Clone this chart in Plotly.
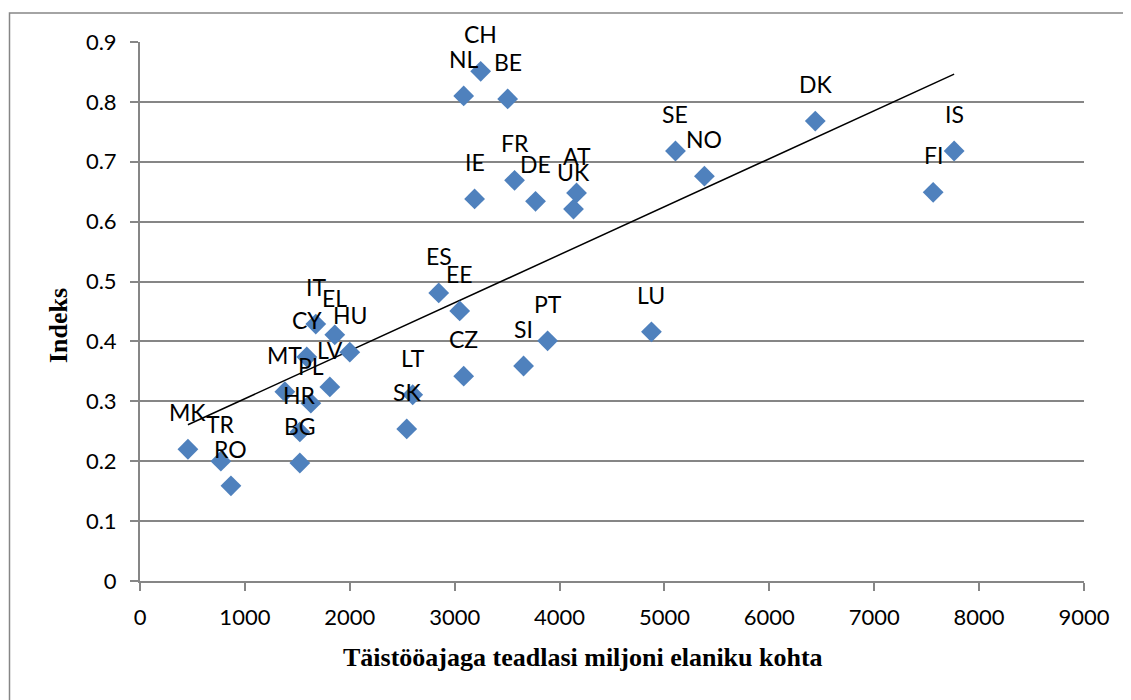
import numpy as np
import plotly.graph_objects as go

countries = ["MK", "TR", "RO", "BG", "HR", "PL", "MT", "LV", "CY", "HU", "EL", "IT",
             "SK", "LT", "ES", "EE", "CZ", "SI", "PT", "NL", "CH", "BE", "IE", "FR",
             "DE", "UK", "AT", "LU", "SE", "NO", "DK", "FI", "IS"]
researchers = [457, 771, 867, 1524, 1524, 1629, 1381, 1810, 1590, 2000, 1857, 1676,
               2543, 2600, 2848, 3048, 3086, 3657, 3886, 3086, 3248, 3505, 3190, 3571,
               3771, 4133, 4162, 4876, 5105, 5381, 6438, 7562, 7762]
index_vals = [0.220, 0.200, 0.159, 0.197, 0.249, 0.297, 0.316, 0.324, 0.374, 0.382, 0.411, 0.429,
              0.254, 0.311, 0.481, 0.451, 0.342, 0.359, 0.401, 0.810, 0.851, 0.805, 0.638, 0.669,
              0.634, 0.621, 0.648, 0.416, 0.718, 0.676, 0.768, 0.649, 0.718]

x_ticks = [0, 1000, 2000, 3000, 4000, 5000, 6000, 7000, 8000, 9000]
y_ticks = [0, 0.1, 0.2, 0.3, 0.4, 0.5, 0.6, 0.7, 0.8, 0.9]
x_title = "Täistööajaga teadlasi miljoni elaniku kohta"
y_title = "Indeks"

xa = np.array(researchers, dtype=float)
ya = np.array(index_vals, dtype=float)
slope, intercept = np.polyfit(xa, ya, 1)
tx = np.array([xa.min(), xa.max()])
ty = slope * tx + intercept

fig = go.Figure()
fig.add_trace(go.Scatter(x=tx, y=ty, mode="lines",
                         line=dict(color="black", width=1.5), hoverinfo="skip",
                         showlegend=False))
fig.add_trace(go.Scatter(x=researchers, y=index_vals, mode="markers",
                         marker=dict(symbol="diamond", size=16, color="#4F81BD",
                                     line=dict(width=0)),
                         text=countries, showlegend=False))

for c, xv, yv in zip(countries, researchers, index_vals):
    fig.add_annotation(x=xv, y=yv, text=c, showarrow=False, yshift=37,
                       font=dict(family="Lato", size=23, color="black"))

tick_font = dict(family="Lato", size=22, color="black")
fig.update_xaxes(range=[0, 9000], tickvals=x_ticks, ticktext=[str(v) for v in x_ticks],
                 showgrid=False, zeroline=False, showline=True, linecolor="#868686",
                 linewidth=2, ticks="outside", ticklen=8, tickwidth=2, tickcolor="#868686",
                 tickfont=tick_font, ticklabelstandoff=8)
fig.update_yaxes(range=[0, 0.9], tickvals=y_ticks,
                 ticktext=["0" if v == 0 else f"{v:.1f}" for v in y_ticks],
                 showgrid=True, gridcolor="#868686", gridwidth=2, zeroline=False,
                 showline=True, linecolor="#868686", linewidth=2, ticks="outside",
                 ticklen=8, tickwidth=2, tickcolor="#868686", tickfont=tick_font,
                 ticklabelstandoff=9)

title_font = dict(family="Liberation Serif", size=26, color="black", weight="bold")
fig.add_annotation(xref="paper", yref="paper", x=(583 - 140) / 944, y=(581 - 657) / 539,
                   text=x_title, showarrow=False, font=title_font,
                   xanchor="center", yanchor="middle")
fig.add_annotation(xref="paper", yref="paper", x=(58 - 140) / 944, y=(581 - 326) / 539,
                   text=y_title, showarrow=False, font=title_font, textangle=-90,
                   xanchor="center", yanchor="middle")

fig.add_shape(type="rect", xref="paper", yref="paper",
              x0=(9.5 - 140) / 944, x1=(1145 - 140) / 944,
              y0=(581 - 715) / 539, y1=(581 - 13) / 539,
              line=dict(color="#868686", width=1.5), fillcolor="rgba(0,0,0,0)", layer="below")

fig.update_layout(width=1131, height=700, plot_bgcolor="white", paper_bgcolor="white",
                  margin=dict(l=132, r=55, t=34, b=127), showlegend=False)

fig.write_html("out.html")
